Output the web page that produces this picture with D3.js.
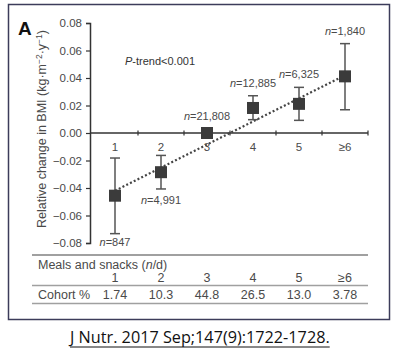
<!DOCTYPE html>
<html><head><meta charset="utf-8">
<script src="https://cdn.jsdelivr.net/npm/d3@7"></script>
<style>body{margin:0;background:#fff}svg{display:block}</style>
</head><body><svg id="c" width="398" height="350"></svg>
<script>
// ---- data ----
const categories = ["1","2","3","4","5","≥6"];
const means      = [-0.0456, -0.0285, 0.0000, 0.0182, 0.0212, 0.0412];
const lower      = [-0.0732, -0.0407, -0.0012, 0.0097, 0.0092, 0.0169];
const upper      = [-0.0182, -0.0163, 0.0012, 0.0271, 0.0332, 0.0650];
const nLabels    = ["847","4,991","21,808","12,885","6,325","1,840"];
const cohortPct  = ["1.74","10.3","44.8","26.5","13.0","3.78"];
const trendEnds  = [-0.042, 0.042];
const yTicks     = [-0.08,-0.06,-0.04,-0.02,0.00,0.02,0.04,0.06,0.08];

const svg = d3.select("#c");
const F = "'Liberation Sans', Arial, sans-serif";
const TXT = "#4a4a4a";

// frame
svg.append("rect").attr("x",8.5).attr("y",4.5).attr("width",381).attr("height",315)
  .attr("fill","#fff").attr("stroke","#3c3c5a").attr("stroke-width",1.5);

const y = d3.scaleLinear().domain([-0.08,0.08]).range([243,23]);
const x = d3.scaleBand().domain(categories).range([92,368]);
const cx = c => x(c) + x.bandwidth()/2;

// y axis
const yAxis = svg.append("g").attr("transform","translate(90,0)")
  .call(d3.axisLeft(y).tickValues(yTicks).tickSize(4).tickPadding(4).tickFormat(d3.format(".2f")));
yAxis.select(".domain").attr("stroke","#333").attr("stroke-width",1.5);
yAxis.selectAll(".tick line").attr("stroke","#333").attr("stroke-width",1.2);
yAxis.selectAll("text").attr("font-family",F).attr("font-size",11.5).attr("fill",TXT);

// x axis at zero
const y0 = y(0);
svg.append("line").attr("x1",90).attr("x2",368).attr("y1",y0).attr("y2",y0)
  .attr("stroke","#333").attr("stroke-width",1.5);
svg.selectAll(".xt").data(categories).join("line").attr("class","xt")
  .attr("x1",c=>x(c)+x.bandwidth()).attr("x2",c=>x(c)+x.bandwidth())
  .attr("y1",y0-2.5).attr("y2",y0+2.5).attr("stroke","#333").attr("stroke-width",1.2);
svg.selectAll(".xl").data(categories).join("text").attr("class","xl")
  .attr("x",cx).attr("y",y0+18).attr("text-anchor","middle")
  .attr("font-family",F).attr("font-size",11.5).attr("fill",TXT).text(c=>c);

// trend line
svg.append("line")
  .attr("x1",cx(categories[0])).attr("y1",y(trendEnds[0]))
  .attr("x2",cx(categories[categories.length-1])).attr("y2",y(trendEnds[1]))
  .attr("stroke","#444").attr("stroke-width",2.2).attr("stroke-dasharray","2,2.2");

// error bars
const eb = svg.append("g").attr("stroke","#555").attr("stroke-width",1.5);
categories.forEach((c,i)=>{
  if (upper[i]-lower[i] < 0.005) return;
  eb.append("line").attr("x1",cx(c)).attr("x2",cx(c)).attr("y1",y(lower[i])).attr("y2",y(upper[i]));
  [lower[i],upper[i]].forEach(v=>eb.append("line").attr("x1",cx(c)-5).attr("x2",cx(c)+5).attr("y1",y(v)).attr("y2",y(v)));
});

// markers
svg.selectAll(".pt").data(categories).join("rect").attr("class","pt")
  .attr("x",c=>cx(c)-6).attr("y",(c,i)=>y(means[i])-6).attr("width",12).attr("height",12)
  .attr("fill","#3b3b3b");

// n labels
categories.forEach((c,i)=>{
  const below = means[i] < 0;
  const ty = below ? y(lower[i]) + (i===0?12:15) : (upper[i]-lower[i]<0.005 ? y(means[i]) - 13 : y(upper[i]) - 9);
  const t = svg.append("text").attr("x",cx(c)).attr("y",ty).attr("text-anchor","middle")
    .attr("font-family",F).attr("font-size",11).attr("fill",TXT);
  t.append("tspan").attr("font-style","italic").text("n");
  t.append("tspan").text("=" + nLabels[i]);
});

// P-trend
const pt = svg.append("text").attr("x",125).attr("y",65).attr("font-family",F).attr("font-size",11).attr("fill","#333");
pt.append("tspan").attr("font-style","italic").text("P");
pt.append("tspan").text("-trend<0.001");

// panel letter
svg.append("text").attr("x",18).attr("y",35).attr("font-family",F).attr("font-weight","bold")
  .attr("font-size",19).attr("fill","#111").text("A");

// y title
const yt = svg.append("text").attr("transform","translate(46,129) rotate(-90)").attr("text-anchor","middle")
  .attr("font-family",F).attr("font-size",12.5).attr("fill",TXT);
yt.append("tspan").text("Relative change in BMI (kg·m");
yt.append("tspan").attr("font-size",8.5).attr("dy",-4).text("−2");
yt.append("tspan").attr("dy",4).text("·y");
yt.append("tspan").attr("font-size",8.5).attr("dy",-4).text("−1");
yt.append("tspan").attr("dy",4).text(")");

// table
const tg = svg.append("g").attr("font-family",F).attr("font-size",12.5).attr("fill",TXT);
[[255,2],[285.5,1.5],[303.5,1.5]].forEach(([ly,w])=>
  svg.append("line").attr("x1",32).attr("x2",368).attr("y1",ly).attr("y2",ly).attr("stroke","#a0a0a0").attr("stroke-width",w));
const mt = tg.append("text").attr("x",38).attr("y",269);
mt.append("tspan").text("Meals and snacks (");
mt.append("tspan").attr("font-style","italic").text("n");
mt.append("tspan").text("/d)");
tg.selectAll(".tc").data(categories).join("text").attr("class","tc")
  .attr("x",cx).attr("y",281.5).attr("text-anchor","middle").text(c=>c);
tg.append("text").attr("x",38).attr("y",299).text("Cohort %");
tg.selectAll(".tp").data(cohortPct).join("text").attr("class","tp")
  .attr("x",(d,i)=>cx(categories[i])).attr("y",299).attr("text-anchor","middle").text(d=>d);

// citation
const cit = svg.append("text").attr("x",70).attr("y",343)
  .attr("font-family","'Open Sans', 'Liberation Sans', sans-serif").attr("font-size",14.5).attr("fill","#111")
  .text("J Nutr. 2017 Sep;147(9):1722-1728.");
const w = cit.node().getComputedTextLength();
cit.attr("font-size", 14.5*260/w);
const w2 = cit.node().getComputedTextLength();
svg.append("line").attr("x1",70).attr("x2",70+w2).attr("y1",347).attr("y2",347).attr("stroke","#111").attr("stroke-width",1);
</script></body></html>
